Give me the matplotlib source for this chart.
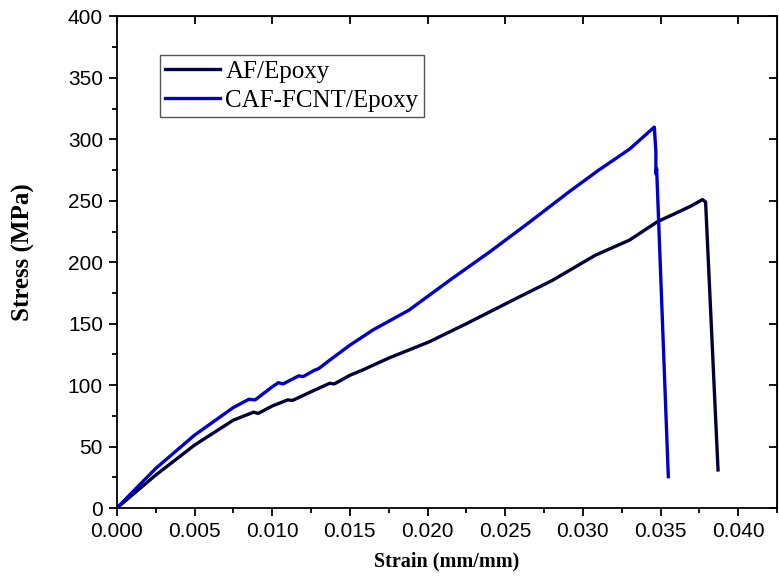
import matplotlib
matplotlib.use("Agg")
import matplotlib.pyplot as plt
from matplotlib.ticker import MultipleLocator

# AF/Epoxy
af_strain = [0.0, 0.0025, 0.005, 0.0075, 0.0088, 0.0091, 0.0100, 0.0110, 0.0113,
             0.0125, 0.0137, 0.0140, 0.0150, 0.0158, 0.0175, 0.0201, 0.0225,
             0.0257, 0.0280, 0.0308, 0.0330, 0.0348, 0.0360, 0.0370, 0.0377,
             0.0379, 0.0387]
af_stress = [0.0, 26.8, 51.2, 71.5, 78.0, 77.0, 83.0, 88.0, 87.5,
             94.6, 101.5, 101.0, 108.0, 112.2, 122.0, 135.2, 150.0,
             170.5, 185.0, 205.7, 218.0, 233.0, 240.0, 246.0, 251.0,
             249.0, 31.0]

# CAF-FCNT/Epoxy
caf_strain = [0.0, 0.0025, 0.005, 0.0075, 0.0085, 0.0089, 0.0100, 0.0104,
              0.0107, 0.0117, 0.0120, 0.0127, 0.0130, 0.0137, 0.0150, 0.0165,
              0.0188, 0.0215, 0.0240, 0.0265, 0.0291, 0.0310, 0.0330, 0.0346,
              0.0347, 0.0347, 0.03475, 0.0355]
caf_stress = [0.0, 32.2, 59.3, 81.8, 88.5, 88.0, 98.6, 102.0,
              101.0, 107.5, 107.0, 112.0, 113.5, 120.3, 132.5, 145.0,
              161.0, 186.0, 208.4, 232.0, 257.2, 274.8, 292.0, 310.0,
              290.0, 272.0, 276.0, 25.5]

fig = plt.figure(figsize=(7.79, 5.88), dpi=100)
ax = fig.add_axes([0.150, 0.136, 0.8475, 0.836])

ax.plot(af_strain, af_stress, color="#00003A", lw=2.4, label="AF/Epoxy")
ax.plot(caf_strain, caf_stress, color="#0000C8", lw=2.4, label="CAF-FCNT/Epoxy")

ax.set_xlim(0, 0.0425)
ax.set_ylim(0, 400)
ax.xaxis.set_major_locator(MultipleLocator(0.005))
ax.xaxis.set_minor_locator(MultipleLocator(0.0025))
ax.yaxis.set_major_locator(MultipleLocator(50))
ax.yaxis.set_minor_locator(MultipleLocator(25))
ax.xaxis.set_major_formatter(plt.FuncFormatter(lambda v, _: f"{v:.3f}"))

ax.tick_params(which="major", direction="out", length=6, width=1.3,
               labelsize=15, pad=4)
ax.tick_params(which="minor", direction="out", length=3.5, width=1.3)
for lab in ax.get_xticklabels() + ax.get_yticklabels():
    lab.set_fontfamily("Liberation Sans")
for s in ax.spines.values():
    s.set_linewidth(1.3)

# mirrored inward major ticks on top/right
top = ax.secondary_xaxis("top")
top.xaxis.set_major_locator(MultipleLocator(0.005))
top.tick_params(direction="in", length=6, width=1.3, labeltop=False)
right = ax.secondary_yaxis("right")
right.yaxis.set_major_locator(MultipleLocator(50))
right.tick_params(direction="in", length=6, width=1.3, labelright=False)

ax.set_xlabel("Strain (mm/mm)", fontfamily="Liberation Serif",
              fontweight="bold", fontsize=14.5)
ax.xaxis.set_label_coords(0.5, -0.088)
ax.set_ylabel("Stress (MPa)", fontfamily="Liberation Serif",
              fontweight="bold", fontsize=18)
ax.yaxis.set_label_coords(-0.124, 0.52)

leg = ax.legend(loc="upper left", bbox_to_anchor=(0.065, 0.922),
                borderaxespad=0, fancybox=False, framealpha=1,
                prop={"family": "Liberation Serif", "size": 18},
                handlelength=2.2, handletextpad=0.2, borderpad=0.22,
                labelspacing=0.25)
leg.get_frame().set_edgecolor("#555555")
leg.get_frame().set_linewidth(1.0)

fig.savefig("out.png", dpi=100)
